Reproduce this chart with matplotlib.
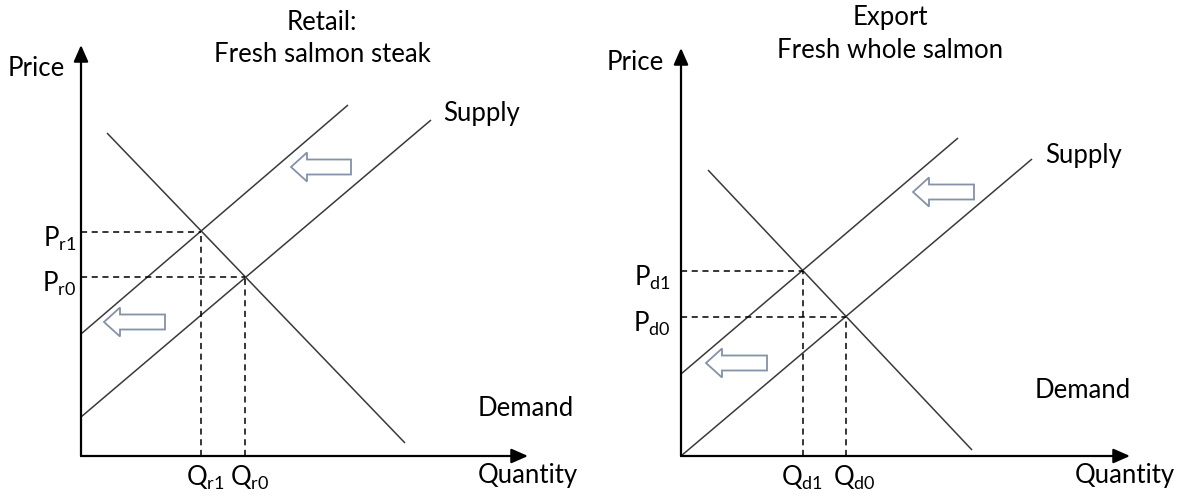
import matplotlib

matplotlib.use("Agg")

from dataclasses import dataclass

import matplotlib.pyplot as plt
from matplotlib.patches import ArrowStyle, FancyArrow


# diagram units: origin of each panel at (0, 0), both axes on the same scale
FIG_W, FIG_H, DPI = 11.84, 4.99, 100

# --- retail panel ---
retail_title = ["Retail:", "Fresh salmon steak"]
retail_axis_end = [44.7, 41.1]  # quantity tip, price tip
retail_supply0_x = [0.0, 35.0]
retail_supply0_y = [3.9, 33.6]
retail_supply1_x = [0.0, 26.7]
retail_supply1_y = [12.2, 35.1]
retail_demand_x = [2.6, 32.4]
retail_demand_y = [32.3, 1.3]
retail_eq_q = [16.4, 12.0]
retail_eq_p = [17.9, 22.4]
retail_q_labels = ["Q_{r0}", "Q_{r1}"]
retail_p_labels = ["P_{r0}", "P_{r1}"]
retail_shift_tip_x = [21.0, 2.3]
retail_shift_tail_x = [27.0, 8.4]
retail_shift_y = [28.9, 13.4]

# --- export panel ---
export_title = ["Export", "Fresh whole salmon"]
export_axis_end = [44.9, 40.8]
export_supply0_x = [0.0, 35.1]
export_supply0_y = [0.0, 29.7]
export_supply1_x = [0.0, 27.7]
export_supply1_y = [8.2, 31.8]
export_demand_x = [2.7, 29.1]
export_demand_y = [28.6, 0.6]
export_eq_q = [16.5, 12.2]
export_eq_p = [13.9, 18.5]
export_q_labels = ["Q_{d0}", "Q_{d1}"]
export_p_labels = ["P_{d0}", "P_{d1}"]
export_shift_tip_x = [23.2, 2.5]
export_shift_tail_x = [29.3, 8.6]
export_shift_y = [26.4, 9.3]

LINE = "#3a3a3a"
ARROW_EDGE = "#8392a8"
FONT = 18.5


@dataclass
class Panel:
    title: list
    axis_end: list
    supply0: tuple
    supply1: tuple
    demand: tuple
    eq_q: list
    eq_p: list
    q_labels: list
    p_labels: list
    shift_tip_x: list
    shift_tail_x: list
    shift_y: list
    # layout of the texts, in diagram units
    title_x: float
    title_y: list
    price_xy: tuple
    supply_xy: tuple
    demand_xy: tuple
    quantity_xy: tuple
    p_label_x: float
    q_label_dx: list


panels = [
    Panel(
        retail_title, retail_axis_end,
        (retail_supply0_x, retail_supply0_y),
        (retail_supply1_x, retail_supply1_y),
        (retail_demand_x, retail_demand_y),
        retail_eq_q, retail_eq_p, retail_q_labels, retail_p_labels,
        retail_shift_tip_x, retail_shift_tail_x, retail_shift_y,
        title_x=24.1, title_y=[43.4, 40.1],
        price_xy=(-1.6, 38.8), supply_xy=(36.2, 34.3),
        demand_xy=(39.7, 4.7), quantity_xy=(39.7, -1.9),
        p_label_x=-0.5, q_label_dx=[0.45, 0.45],
    ),
    Panel(
        export_title, export_axis_end,
        (export_supply0_x, export_supply0_y),
        (export_supply1_x, export_supply1_y),
        (export_demand_x, export_demand_y),
        export_eq_q, export_eq_p, export_q_labels, export_p_labels,
        export_shift_tip_x, export_shift_tail_x, export_shift_y,
        title_x=20.9, title_y=[43.8, 40.6],
        price_xy=(-1.7, 39.4), supply_xy=(36.4, 30.1),
        demand_xy=(35.4, 6.6), quantity_xy=(39.4, -1.9),
        p_label_x=-1.0, q_label_dx=[0.8, -0.1],
    ),
]

# axes placement: left edge offset of the origin, in units
ORIGIN_OFFSET = [8.1, 8.9]
ORIGIN_Y = 4.3


def draw_panel(ax, p: Panel, x0: float):
    ax.set_xlim(-x0, -x0 + FIG_W * DPI / 2 / 10)
    ax.set_ylim(-ORIGIN_Y, -ORIGIN_Y + FIG_H * DPI / 10)
    ax.axis("off")

    head = ArrowStyle("-|>", head_length=0.5, head_width=0.22)
    for end in [(p.axis_end[0], 0), (0, p.axis_end[1])]:
        ax.annotate(
            "", xy=end, xytext=(0, 0),
            arrowprops=dict(arrowstyle=head, mutation_scale=20, lw=1.6,
                            color="black", shrinkA=0, shrinkB=0),
        )

    for xs, ys in [p.supply0, p.supply1, p.demand]:
        ax.plot(xs, ys, color=LINE, lw=1.1, solid_capstyle="butt")

    # dashed guides to the equilibria
    for q, pr, ql, pl, dx in zip(p.eq_q, p.eq_p, p.q_labels, p.p_labels,
                                 p.q_label_dx):
        ax.plot([0, q], [pr, pr], color="black", lw=1.1, dashes=(4, 3))
        ax.plot([q, q], [0, pr], color="black", lw=1.1, dashes=(4, 3))
        ax.text(q + dx, -2.2, rf"$\mathregular{{{ql}}}$",
                ha="center", va="center", fontsize=FONT)
        ax.text(p.p_label_x, pr - 0.7, rf"$\mathregular{{{pl}}}$", ha="right",
                va="center", fontsize=FONT)

    # hollow block arrows showing the supply shift
    for tip, tail, y in zip(p.shift_tip_x, p.shift_tail_x, p.shift_y):
        ax.add_patch(FancyArrow(
            tail, y, tip - tail, 0, width=1.5, head_width=2.9, head_length=1.6,
            length_includes_head=True, facecolor="white",
            edgecolor=ARROW_EDGE, lw=1.3,
        ))

    for line, y in zip(p.title, p.title_y):
        ax.text(p.title_x, y, line, ha="center", va="center", fontsize=FONT)
    ax.text(*p.price_xy, "Price", ha="right", va="center", fontsize=FONT)
    ax.text(*p.supply_xy, "Supply", ha="left", va="center", fontsize=FONT)
    ax.text(*p.demand_xy, "Demand", ha="left", va="center", fontsize=FONT)
    ax.text(*p.quantity_xy, "Quantity", ha="left", va="center", fontsize=FONT)


def main():
    plt.rcParams["font.family"] = ["Lato", "DejaVu Sans"]
    plt.rcParams["mathtext.fontset"] = "custom"
    plt.rcParams["mathtext.rm"] = "Lato"

    fig = plt.figure(figsize=(FIG_W, FIG_H), dpi=DPI)
    for i, (p, x0) in enumerate(zip(panels, ORIGIN_OFFSET)):
        ax = fig.add_axes([0.5 * i, 0, 0.5, 1])
        draw_panel(ax, p, x0)

    fig.savefig("out.png", dpi=DPI, facecolor="white")
    return 0


if __name__ == "__main__":
    main()
